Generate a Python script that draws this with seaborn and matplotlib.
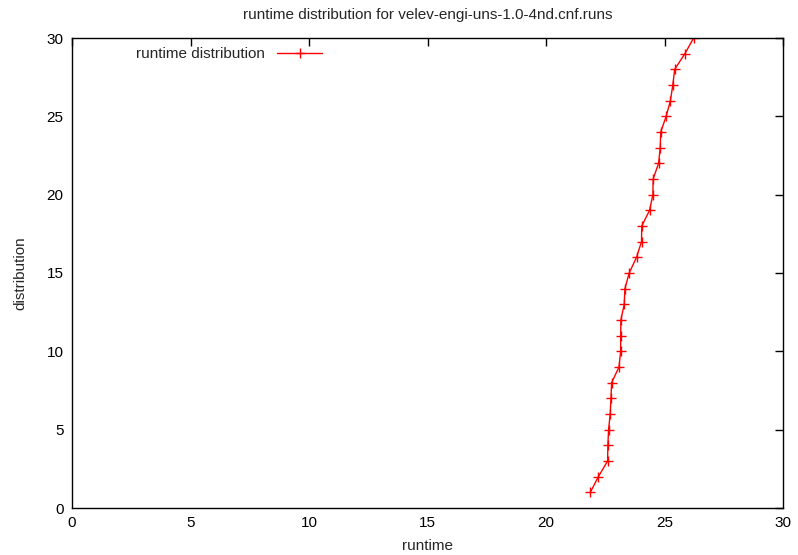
import numpy as np
import pandas as pd
import seaborn as sns
import matplotlib
matplotlib.use("Agg")
import matplotlib.pyplot as plt

# runtime values, one per distribution step
runtime = [21.87, 22.21, 22.60, 22.61, 22.64, 22.71, 22.74, 22.77, 23.08, 23.15,
           23.15, 23.16, 23.30, 23.33, 23.51, 23.82, 24.03, 24.04, 24.37, 24.51,
           24.52, 24.75, 24.82, 24.84, 25.07, 25.25, 25.35, 25.43, 25.86, 26.23]
distribution = list(range(1, 31))

df = pd.DataFrame({"runtime": runtime, "distribution": distribution})

sns.set_style("white")
plt.rcParams['font.family'] = ['Liberation Sans', 'DejaVu Sans']

fig = plt.figure(figsize=(7.98, 5.55), dpi=100)
ax = fig.add_axes([72 / 798, 47 / 555, 711 / 798, 470 / 555])

sns.lineplot(data=df, x="runtime", y="distribution", ax=ax, color="red",
             marker="+", markersize=7, markeredgewidth=1, markeredgecolor="red",
             linewidth=1, sort=False, estimator=None, label="runtime distribution")

ax.set_xlim(0, 30)
ax.set_ylim(0, 30)
ax.set_xticks(np.arange(0, 31, 5))
ax.set_yticks(np.arange(0, 31, 5))
ax.tick_params(direction="in", top=True, right=True, length=6, width=1,
               labelsize=11, colors="black", pad=6)
for s in ax.spines.values():
    s.set_color("black")
    s.set_linewidth(1)

ax.set_xlabel("runtime", fontsize=11, labelpad=6)
ax.set_ylabel("distribution", fontsize=11, labelpad=14)
ax.set_title("runtime distribution for velev-engi-uns-1.0-4nd.cnf.runs",
             fontsize=11, pad=14)

ax.legend(loc="upper left", frameon=False, markerfirst=False, fontsize=11,
          handlelength=3, bbox_to_anchor=(0.07, 1.01))

fig.savefig("out.png", dpi=100)
